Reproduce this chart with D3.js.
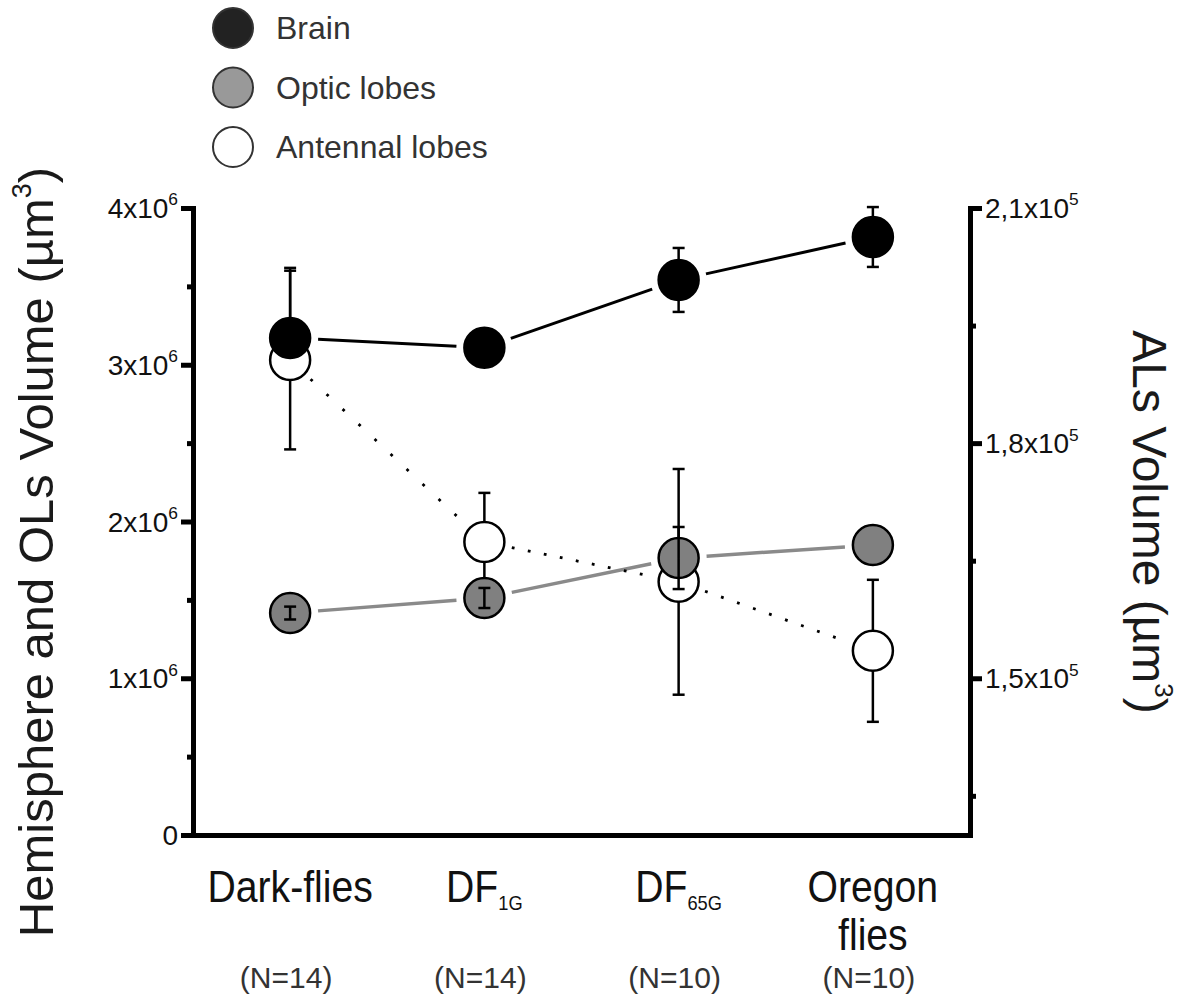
<!DOCTYPE html>
<html>
<head>
<meta charset="utf-8">
<script src="https://cdn.jsdelivr.net/npm/d3@7"></script>
<style>
  body { margin: 0; background: #fff; }
  svg { display: block; font-family: "Liberation Sans", Arial, Helvetica, sans-serif; }
</style>
</head>
<body>
<svg id="chart" width="1181" height="997"></svg>
<script>
// groups along the x axis
const groups = ["Dark-flies", "DF1G", "DF65G", "Oregon flies"];
const labelMain = ["Dark-flies", "DF", "DF", "Oregon"];
const labelSub = ["", "1G", "65G", ""];
const labelLine2 = ["", "", "", "flies"];
const sampleN = [14, 14, 10, 10];

// brain + optic lobes, left axis (x10^6 µm3)
const brainMean = [3.171, 3.109, 3.541, 3.815];
const brainErrUp = [0.447, 0.04, 0.204, 0.191];
const brainErrDown = [0, 0.04, 0.204, 0.191];
const opticMean = [1.416, 1.512, 1.767, 1.850];
const opticErr = [0.041, 0.064, 0.198, 0];

// antennal lobes, right axis (x10^5 µm3)
const alMean = [1.906, 1.674, 1.623, 1.535];
const alErr = [0.114, 0.0625, 0.144, 0.0906];

// axis ticks
const leftMajor = [0, 1, 2, 3, 4];
const leftMinor = [0.5, 1.5, 2.5, 3.5];
const rightMajor = [1.5, 1.8, 2.1];
const rightMinor = [1.35, 1.65, 1.95];
const rightLabels = ["1,5", "1,8", "2,1"];

const legendNames = ["Brain", "Optic lobes", "Antennal lobes"];

const svg = d3.select("#chart");
const plotLeft = 193, plotRight = 970, plotTop = 208, plotBottom = 835;
const R = 20;

const x = d3.scalePoint().domain(groups).range([plotLeft, plotRight]).padding(0.5);
const yL = d3.scaleLinear().domain([0, 4]).range([plotBottom, plotTop]);
const yR = d3.scaleLinear().domain([1.3, 2.1]).range([plotBottom, plotTop]);

const brain = groups.map((g, i) => ({g, v: brainMean[i], up: brainErrUp[i], down: brainErrDown[i], y: yL}));
const optic = groups.map((g, i) => ({g, v: opticMean[i], up: opticErr[i], down: opticErr[i], y: yL}));
const antennal = groups.map((g, i) => ({g, v: alMean[i], up: alErr[i], down: alErr[i], y: yR}));

// connecting lines, cut short before each circle
function drawSegments(data, cls, stroke, width, dotted){
    const segs = d3.pairs(data);
    svg.append("g").attr("class", cls)
        .selectAll("line")
        .data(segs)
        .join("line")
        .each(function([a, b]){
            const x1 = x(a.g), y1 = a.y(a.v), x2 = x(b.g), y2 = b.y(b.v);
            const len = Math.hypot(x2 - x1, y2 - y1);
            const ux = (x2 - x1) / len, uy = (y2 - y1) / len;
            const cut = R + 8;
            const l = d3.select(this)
                .attr("x1", x1 + ux * cut).attr("y1", y1 + uy * cut)
                .attr("x2", x2 - ux * cut).attr("y2", y2 - uy * cut)
                .attr("stroke", stroke).attr("stroke-width", width);
            if(dotted){
                const period = 16 * len / Math.abs(x2 - x1);
                l.attr("stroke-dasharray", `2.8,${period - 2.8}`);
            }
        });
}
drawSegments(brain, "brainline", "#000", 3, false);
drawSegments(optic, "opticline", "#8a8a8a", 3.5, false);
drawSegments(antennal, "alline", "#000", 2.8, true);

// one whisker per direction, skipped when zero
function drawErr(data, cls){
    const whiskers = [];
    data.forEach(d => {
        if(d.up > 0) whiskers.push({d, end: d.v + d.up});
        if(d.down > 0) whiskers.push({d, end: d.v - d.down});
    });
    const g = svg.append("g").attr("class", cls).attr("stroke", "#000").attr("stroke-width", 2.5);
    const eb = g.selectAll("g").data(whiskers).join("g");
    eb.append("line")
        .attr("x1", w => x(w.d.g)).attr("x2", w => x(w.d.g))
        .attr("y1", w => w.d.y(w.d.v)).attr("y2", w => w.d.y(w.end));
    eb.append("line")
        .attr("x1", w => x(w.d.g) - 6).attr("x2", w => x(w.d.g) + 6)
        .attr("y1", w => w.d.y(w.end)).attr("y2", w => w.d.y(w.end));
}

function drawDots(data, cls, fill, stroke){
    svg.append("g").attr("class", cls)
        .selectAll("circle")
        .data(data)
        .join("circle")
        .attr("cx", d => x(d.g))
        .attr("cy", d => d.y(d.v))
        .attr("r", R)
        .attr("fill", fill)
        .attr("stroke", stroke)
        .attr("stroke-width", 2.5);
}

drawErr(brain, "brainerr");
drawErr(antennal, "alerr");
drawDots(antennal, "aldots", "#fff", "#000");
drawDots(optic, "opticdots", "#808080", "#000");
drawErr(optic, "opticerr");
drawDots(brain, "braindots", "#000", "#000");

// axes
function styleAxis(g){
    g.select(".domain").attr("stroke", "#000").attr("stroke-width", 5).attr("stroke-linecap", "square");
    g.selectAll(".tick line").attr("stroke", "#000").attr("stroke-width", 5);
}
svg.append("g").attr("transform", `translate(${plotLeft},0)`)
    .call(d3.axisLeft(yL).tickValues(leftMajor).tickSize(12).tickSizeOuter(0).tickFormat(""))
    .call(styleAxis);
svg.append("g").attr("transform", `translate(${plotLeft},0)`)
    .call(d3.axisLeft(yL).tickValues(leftMinor).tickSize(6).tickSizeOuter(0).tickFormat(""))
    .call(styleAxis);
svg.append("g").attr("transform", `translate(${plotRight},0)`)
    .call(d3.axisRight(yR).tickValues(rightMajor).tickSize(12).tickSizeOuter(0).tickFormat(""))
    .call(styleAxis);
svg.append("g").attr("transform", `translate(${plotRight},0)`)
    .call(d3.axisRight(yR).tickValues(rightMinor).tickSize(6).tickSizeOuter(0).tickFormat(""))
    .call(styleAxis);
svg.append("g").attr("transform", `translate(0,${plotBottom})`)
    .call(d3.axisBottom(x).tickSize(0).tickSizeOuter(0).tickFormat(""))
    .call(styleAxis);

// text with superscript
function supLabel(t, base, sup, size){
    t.append("tspan").text(base);
    if(sup){
        t.append("tspan").attr("dy", -size * 0.45).attr("font-size", size * 0.62).text(sup);
    }
}

const tickFont = 28;
svg.append("g").selectAll("text")
    .data(leftMajor)
    .join("text")
    .attr("x", plotLeft - 15)
    .attr("y", d => yL(d) + 10)
    .attr("text-anchor", "end")
    .attr("font-size", tickFont)
    .attr("fill", "#111")
    .each(function(d){ supLabel(d3.select(this), d === 0 ? "0" : d + "x10", d === 0 ? "" : "6", tickFont); });

svg.append("g").selectAll("text")
    .data(rightMajor)
    .join("text")
    .attr("x", plotRight + 15)
    .attr("y", d => yR(d) + 10)
    .attr("font-size", tickFont)
    .attr("fill", "#111")
    .each(function(d, i){ supLabel(d3.select(this), rightLabels[i] + "x10", "5", tickFont); });

// axis titles
const tl = svg.append("text")
    .attr("transform", `translate(53,552) rotate(-90)`)
    .attr("text-anchor", "middle")
    .attr("font-size", 49)
    .attr("fill", "#1a1a1a");
tl.append("tspan").text("Hemisphere and OLs Volume (\u00b5m");
tl.append("tspan").attr("dy", -22).attr("font-size", 27).text("3");
tl.append("tspan").attr("dy", 22).text(")");

const tr = svg.append("text")
    .attr("transform", `translate(1133,522) rotate(90)`)
    .attr("text-anchor", "middle")
    .attr("font-size", 48)
    .attr("fill", "#1a1a1a");
tr.append("tspan").text("ALs Volume (\u00b5m");
tr.append("tspan").attr("dy", -22).attr("font-size", 26).text("3");
tr.append("tspan").attr("dy", 22).text(")");

// category labels (the reference font is a bit condensed)
const catFont = 45;
const cat = svg.append("g").selectAll("g")
    .data(groups)
    .join("g")
    .attr("transform", d => `translate(${x(d)},0)`);
cat.append("text")
    .attr("transform", "scale(0.87,1)")
    .attr("y", 902)
    .attr("text-anchor", "middle")
    .attr("font-size", catFont)
    .attr("fill", "#111")
    .each(function(d, i){
        const t = d3.select(this);
        t.append("tspan").text(labelMain[i]);
        if(labelSub[i]) t.append("tspan").attr("dy", 8).attr("font-size", 21).text(labelSub[i]);
    });
cat.append("text")
    .attr("transform", "scale(0.87,1)")
    .attr("y", 950)
    .attr("text-anchor", "middle")
    .attr("font-size", catFont)
    .attr("fill", "#111")
    .text((d, i) => labelLine2[i]);
cat.append("text")
    .attr("x", -4)
    .attr("y", 988)
    .attr("text-anchor", "middle")
    .attr("font-size", 30)
    .attr("fill", "#333")
    .text((d, i) => "(N=" + sampleN[i] + ")");

// legend
const legFill = ["#222", "#999", "#fff"];
const leg = svg.append("g").selectAll("g")
    .data(legendNames)
    .join("g")
    .attr("transform", (d, i) => `translate(233,${28 + i * 59.5})`);
leg.append("circle").attr("r", R).attr("fill", (d, i) => legFill[i]).attr("stroke", "#333").attr("stroke-width", 2);
leg.append("text").attr("x", 43).attr("y", 11).attr("font-size", 32).attr("fill", "#333").text(d => d);
</script>
</body>
</html>
